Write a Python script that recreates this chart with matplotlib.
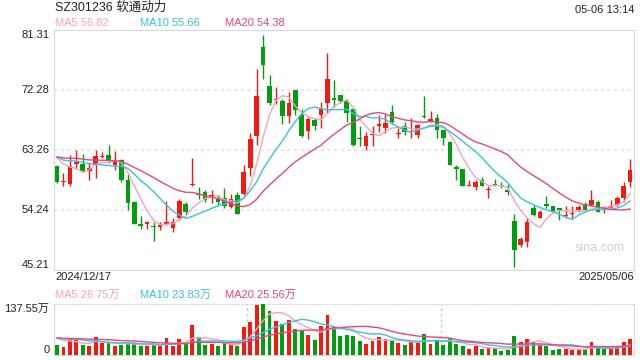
import numpy as np
import pandas as pd
import matplotlib
matplotlib.use("Agg")
import matplotlib.pyplot as plt

plt.rcParams['font.family'] = ['Liberation Sans', 'Noto Sans CJK SC', 'DejaVu Sans']

# precios (2024/12/17 - 2025/05/06)
apertura = [60.87, 58.4, 58.2, 61.1, 61.2, 60.1, 61.05, 62.2, 62.55, 61.0,
            61.8, 58.8, 55.5, 52.0, 52.2, 51.8, 51.7, 52.2, 51.5, 53.0,
            55.2, 58.0, 56.6, 56.9, 56.3, 56.1, 56.0, 54.75, 56.5, 56.65,
            60.6, 65.4, 78.7, 72.9, 70.8, 70.6, 68.4, 72.3, 68.5, 66.05,
            67.8, 68.5, 70.4, 70.95, 71.5, 70.6, 69.5, 65.0, 63.8, 65.5,
            66.8, 66.6, 69.0, 65.6, 66.8, 65.9, 65.5, 68.3, 67.6, 68.1,
            66.3, 64.5, 60.7, 60.4, 57.8, 57.7, 58.7, 57.2, 58.1, 57.9,
            57.1, 52.6, 49.0, 49.35, 54.5, 53.1, 55.1, 54.85, 54.4, 53.3,
            53.6, 54.3, 55.2, 55.0, 55.5, 54.55, 54.5, 55.0, 56.0, 58.5]
maximo = [61.0, 59.8, 62.5, 63.2, 62.6, 61.3, 63.2, 63.0, 64.0, 63.1,
          61.9, 59.7, 55.6, 53.3, 52.6, 52.5, 52.5, 55.6, 53.0, 55.9,
          55.4, 62.0, 57.7, 57.2, 57.2, 56.5, 57.5, 56.7, 56.9, 61.0,
          65.8, 75.4, 80.6, 74.5, 72.7, 70.9, 72.0, 72.3, 69.5, 68.2,
          68.1, 70.5, 77.9, 73.8, 71.5, 71.0, 69.8, 66.8, 66.0, 66.9,
          68.5, 68.7, 70.0, 66.5, 67.4, 68.0, 67.2, 71.4, 69.1, 68.7,
          66.3, 64.6, 61.0, 60.4, 58.7, 58.8, 59.2, 57.8, 58.9, 58.4,
          58.2, 53.6, 50.2, 53.0, 55.0, 54.3, 56.3, 54.9, 54.5, 54.85,
          54.85, 55.0, 55.5, 57.3, 55.8, 54.9, 55.7, 56.4, 58.5, 61.9]
minimo = [58.3, 57.9, 57.9, 60.4, 59.9, 58.8, 59.0, 62.1, 61.3, 60.2,
          58.5, 54.3, 52.1, 51.4, 51.4, 49.5, 51.3, 52.0, 51.0, 52.7,
          53.5, 57.8, 55.9, 55.5, 55.3, 55.0, 54.6, 54.5, 53.6, 56.5,
          59.4, 64.0, 74.0, 70.0, 70.2, 67.2, 67.3, 68.5, 65.2, 64.9,
          66.3, 66.6, 68.9, 69.7, 70.3, 67.5, 63.8, 63.9, 63.3, 63.9,
          65.9, 65.8, 67.2, 65.0, 65.5, 65.0, 65.0, 68.0, 67.4, 65.0,
          64.0, 61.0, 58.7, 57.8, 57.8, 57.2, 57.8, 56.0, 57.9, 57.5,
          56.5, 45.7, 48.6, 48.6, 53.4, 53.0, 54.5, 54.0, 52.8, 53.1,
          53.1, 53.9, 54.2, 54.9, 53.9, 53.8, 54.5, 54.8, 55.5, 57.7]
cierre = [58.52, 58.5, 60.9, 61.5, 60.1, 60.6, 62.4, 62.3, 61.6, 61.6,
          58.7, 55.3, 52.2, 51.9, 52.3, 51.7, 52.0, 52.5, 52.4, 55.6,
          53.9, 58.1, 56.5, 55.7, 56.4, 55.4, 54.85, 55.9, 53.65, 59.95,
          64.9, 71.4, 76.0, 70.4, 70.9, 68.4, 70.35, 69.3, 65.4, 67.9,
          66.9, 69.5, 73.95, 70.85, 70.7, 68.9, 64.0, 64.9, 65.4, 65.6,
          67.1, 67.3, 67.5, 65.7, 65.9, 66.0, 67.0, 68.2, 67.9, 66.2,
          65.1, 61.0, 60.4, 57.9, 57.9, 58.5, 57.9, 57.3, 58.0, 57.8,
          57.0, 48.15, 49.9, 52.4, 53.5, 54.0, 54.8, 54.1, 54.3, 53.35,
          53.7, 54.7, 54.3, 55.8, 54.0, 54.5, 54.85, 56.0, 57.9, 60.3]
# cierres anteriores (estimados) para que las medias empiecen como en el original
cierre_previo = [61.5, 62.0, 61.8, 62.4, 62.9, 63.1, 62.6, 62.2, 61.9, 62.3,
                 62.8, 62.0, 61.7, 62.2, 62.5, 63.4, 63.0, 62.6, 63.0]

# volumen en 万
volumen = [27, 21, 43, 41, 27, 24, 49, 33, 33, 24, 27, 33, 32, 23, 23, 27, 23, 46, 24, 43,
           32, 81, 48, 27, 30, 24, 33, 27, 24, 76, 88, 136, 137.5, 118, 92, 84, 95, 71, 66, 54,
           41, 77, 109, 75, 52, 54, 52, 38, 30, 38, 49, 43, 38, 33, 27, 36, 36, 57, 30, 41,
           27, 45, 30, 23, 16, 24, 16, 18, 18, 11, 14, 50, 36, 43, 36, 27, 23, 14, 16, 16,
           14, 15, 15, 36, 21, 16, 16, 23, 36, 43]
volumen_previo = [44, 50, 46, 41, 48, 52, 45, 43, 47, 50, 44, 46, 49, 45, 48, 52, 47, 50, 49]

eje_precio = [81.31, 72.28, 63.26, 54.24, 45.21]
fecha_ini = "2024/12/17"
fecha_fin = "2025/05/06"

rojo = '#f31a12'
verde = '#009e0f'
col_ma = {5: '#f7a3bd', 10: '#38c3df', 20: '#e8467c'}
gris = '#d9d9d9'

n = len(cierre)
x = np.arange(n)
c_full = pd.Series(cierre_previo + cierre)
v_full = pd.Series(volumen_previo + volumen)
k = len(cierre_previo)

fig = plt.figure(figsize=(6.4, 3.6), dpi=100)
ax = fig.add_axes([54 / 640, 1 - 270 / 360, 580 / 640, 240 / 360])
axv = fig.add_axes([54 / 640, 1 - 355 / 360, 580 / 640, 51 / 360])

o = np.array(apertura)
c = np.array(cierre)
colores = [rojo if cc >= oo else verde for oo, cc in zip(o, c)]
cuerpo = np.maximum(np.abs(c - o), 0.18)
base = np.minimum(o, c)
ax.vlines(x, minimo, maximo, colors=colores, lw=1.0, zorder=3)
ax.bar(x, cuerpo, bottom=base, width=0.72, color=colores, zorder=4, linewidth=0)

for p in [5, 10, 20]:
    ma = c_full.rolling(p).mean().values[k:]
    ax.plot(x, ma, color=col_ma[p], lw=1.0, zorder=5)
    mv = v_full.rolling(p).mean().values[k:]
    axv.plot(x, mv, color=col_ma[p], lw=1.0, zorder=5)

ax.set_xlim(-0.47, n - 0.4)
ax.set_ylim(eje_precio[-1], eje_precio[0])
for val in eje_precio[1:-1]:
    ax.axhline(val, color='#e3e3e3', lw=1.2, ls=(0, (2, 2)), zorder=1)
for s in ax.spines.values():
    s.set_color(gris)
ax.set_xticks([])
ax.set_yticks([])
for i, val in enumerate(eje_precio):
    va = 'top' if i == 0 else ('bottom' if i == len(eje_precio) - 1 else 'center')
    ax.text(-0.008, val, f"{val:.2f}", transform=ax.get_yaxis_transform(),
            ha='right', va=va, fontsize=8, color='#222222')
ax.text(0.94, 0.09, "sina.com", transform=ax.transAxes, ha='center', va='center',
        fontsize=9, color='#d0d0d0')

axv.bar(x, volumen, width=0.6, color=colores, linewidth=0, zorder=3)
axv.set_xlim(-0.47, n - 0.4)
axv.set_ylim(0, 137.55)
axv.set_xticks([])
axv.set_yticks([])
for s in axv.spines.values():
    s.set_color(gris)
axv.spines['top'].set_linestyle((0, (2, 2)))
for f in [1 / 3, 2 / 3]:
    axv.axvline(f * (n - 0.4 + 0.47) - 0.47, color='#cccccc', lw=1, ls=(0, (2, 2)), zorder=1)
axv.text(-0.008, 137.55, "137.55万", transform=axv.get_yaxis_transform(),
         ha='right', va='top', fontsize=8, color='#222222')
axv.text(-0.008, 0, "0", transform=axv.get_yaxis_transform(),
         ha='right', va='bottom', fontsize=8, color='#222222')

# textos de cabecera
fig.text(55 / 640, 1 - 8 / 360, "SZ301236 软通动力", fontsize=9, color='#222222', va='center')
fig.text(634 / 640, 1 - 10 / 360, "05-06 13:14", fontsize=8, color='#222222', va='center', ha='right')
leyenda_precio = ["MA5 56.82", "MA10 55.66", "MA20 54.38"]
leyenda_vol = ["MA5 26.75万", "MA10 23.83万", "MA20 25.56万"]
for xp, p, t1, t2 in zip([55, 140, 225], [5, 10, 20], leyenda_precio, leyenda_vol):
    fig.text(xp / 640, 1 - 23 / 360, t1, fontsize=8, color=col_ma[p], va='center')
    fig.text(xp / 640, 1 - 295 / 360, t2, fontsize=8, color=col_ma[p], va='center')
fig.text(55 / 640, 1 - 277 / 360, fecha_ini, fontsize=8, color='#222222', va='center')
fig.text(634 / 640, 1 - 277 / 360, fecha_fin, fontsize=8, color='#222222', va='center', ha='right')

fig.savefig("out.png", dpi=100)
